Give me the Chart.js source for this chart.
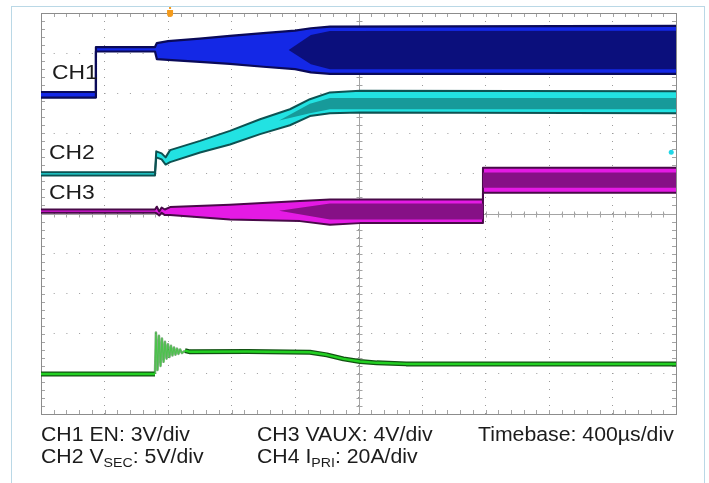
<!DOCTYPE html>
<html>
<head>
<meta charset="utf-8">
<script src="https://cdn.jsdelivr.net/npm/chart.js@4.4.1/dist/chart.umd.min.js"></script>
<style>
html, body { margin: 0; padding: 0; background: #fff; }
#wrap { position: relative; width: 709px; height: 483px; overflow: hidden; font-family: "Liberation Sans", Arial, sans-serif; }
#scope { position: absolute; left: 0; top: 0; }
.lbl { position: absolute; white-space: nowrap; line-height: 1; color: #1c1c1c; transform-origin: 0 0; transform: scaleX(1.09); }
.ch { font-size: 21px; }
.note { font-size: 19.5px; }
.note sub { font-size: 13px; vertical-align: -4px; line-height: 0; }
</style>
</head>
<body>
<div id="wrap">
  <canvas id="scope" width="709" height="483"></canvas>
  <div class="lbl ch" style="left:52px; top:61px;">CH1</div>
  <div class="lbl ch" style="left:49px; top:141px;">CH2</div>
  <div class="lbl ch" style="left:49px; top:181px;">CH3</div>
  <div class="lbl note" style="left:41px; top:425px;">CH1 EN: 3V/div</div>
  <div class="lbl note" style="left:41px; top:447px;">CH2 V<sub>SEC</sub>: 5V/div</div>
  <div class="lbl note" style="left:257px; top:425px;">CH3 VAUX: 4V/div</div>
  <div class="lbl note" style="left:257px; top:447px;">CH4 I<sub>PRI</sub>: 20A/div</div>
  <div class="lbl note" style="left:478px; top:425px;">Timebase: 400µs/div</div>
</div>
<script>
// time in µs from left edge of screen, values in divisions (0 = bottom line)
const usPerDiv = 400;
const xDivs = 10;
const yDivs = 10;
const triggerUs = 813;
const ringStart = 718, ringEnd = 907;

// CH1 EN (blue)
const ch1Time  = [0, 346, 346, 718, 730, 800, 1000, 1190, 1400, 1600, 1700, 1820, 4000];
const ch1Upper = [8.03, 8.03, 9.15, 9.15, 9.25, 9.3, 9.36, 9.43, 9.5, 9.56, 9.62, 9.66, 9.68];
const ch1Lower = [7.89, 7.89, 9.04, 9.04, 8.85, 8.83, 8.78, 8.73, 8.66, 8.6, 8.52, 8.48, 8.48];
const ch1CoreTime  = [1560, 1700, 1820, 4000];
const ch1CoreUpper = [9.08, 9.45, 9.55, 9.56];
const ch1CoreLower = [9.08, 8.72, 8.6, 8.6];

// CH2 VSEC (cyan)
const ch2Time  = [0, 718, 726, 760, 785, 813, 1002, 1190, 1380, 1568, 1694, 1820, 2009, 4000];
const ch2Upper = [6.03, 6.03, 6.55, 6.5, 6.4, 6.58, 6.81, 7.06, 7.35, 7.6, 7.85, 8.02, 8.06, 8.05];
const ch2Lower = [5.95, 5.95, 6.4, 6.35, 6.22, 6.28, 6.52, 6.72, 6.98, 7.2, 7.43, 7.5, 7.52, 7.5];
const ch2CoreTime  = [1500, 1694, 1820, 4000];
const ch2CoreUpper = [7.32, 7.74, 7.88, 7.88];
const ch2CoreLower = [7.32, 7.5, 7.6, 7.6];
const ch2Marker = [{x: 3970, y: 6.53}];

// CH3 VAUX (magenta)
const ch3Time  = [0, 718, 730, 745, 760, 780, 813, 1190, 1631, 1820, 2009, 2784, 2784, 4000];
const ch3Upper = [5.1, 5.1, 5.17, 5.05, 5.15, 5.1, 5.16, 5.22, 5.31, 5.35, 5.35, 5.35, 6.14, 6.14];
const ch3Lower = [5.02, 5.02, 5.0, 4.95, 5.02, 4.96, 4.96, 4.85, 4.81, 4.72, 4.76, 4.76, 5.52, 5.52];
const ch3CoreTime  = [1500, 1820, 2784, 2784, 4000];
const ch3CoreUpper = [5.07, 5.25, 5.25, 6.02, 6.02];
const ch3CoreLower = [5.07, 4.85, 4.85, 5.64, 5.64];

// CH4 IPRI (green)
const ch4Time  = [0, 718, 724, 734, 743, 753, 762, 772, 781, 791, 800, 809, 819, 828, 838, 847, 857, 866, 876, 888, 907, 939, 1300, 1694, 1800, 1905, 2009, 2115, 2300, 4000];
const ch4Level = [1.0, 1.0, 2.03, 1.1, 1.95, 1.2, 1.88, 1.3, 1.8, 1.38, 1.74, 1.42, 1.7, 1.46, 1.66, 1.48, 1.63, 1.5, 1.61, 1.52, 1.58, 1.55, 1.56, 1.54, 1.475, 1.375, 1.31, 1.275, 1.25, 1.25];

function pts(t, v) {
    return t.map((x, i) => ({x: x, y: v[i]}));
}

function band(name, t, up, lo, fillColor, edgeColor, edgeWidth) {
    return [
        {label: name + ' top', data: pts(t, up), borderColor: edgeColor, borderWidth: edgeWidth, fill: false},
        {label: name + ' bottom', data: pts(t, lo), borderColor: edgeColor, borderWidth: edgeWidth, fill: '-1', backgroundColor: fillColor}
    ];
}

function inRing(c) {
    return c.p0.parsed.x >= ringStart && c.p1.parsed.x <= ringEnd;
}

const graticule = {
    id: 'graticule',
    beforeDraw(chart) {
        const ctx = chart.ctx;
        ctx.save();
        ctx.strokeStyle = '#bad8e6';
        ctx.lineWidth = 1;
        ctx.strokeRect(11.5, 6.5, 693, 520);
        ctx.restore();
    },
    beforeDatasetsDraw(chart) {
        const {ctx, chartArea: a, scales: {x, y}} = chart;
        const cx = Math.round(x.getPixelForValue(usPerDiv * xDivs / 2)) + 0.5;
        const cy = Math.round(y.getPixelForValue(yDivs / 2)) + 0.5;
        ctx.save();
        ctx.strokeStyle = '#a4a4a4';
        ctx.lineWidth = 1;
        ctx.beginPath();
        ctx.moveTo(cx, a.top); ctx.lineTo(cx, a.bottom);
        ctx.moveTo(a.left, cy); ctx.lineTo(a.right, cy);
        for (let t = 0; t <= usPerDiv * xDivs; t += usPerDiv / 5) {
            const px = Math.round(x.getPixelForValue(t)) + 0.5;
            ctx.moveTo(px, a.top); ctx.lineTo(px, a.top + 4);
            ctx.moveTo(px, a.bottom); ctx.lineTo(px, a.bottom - 4);
            ctx.moveTo(px, cy - 3); ctx.lineTo(px, cy + 3);
        }
        for (let k = 0; k <= yDivs * 5; k++) {
            const py = Math.round(y.getPixelForValue(k / 5)) + 0.5;
            ctx.moveTo(a.left, py); ctx.lineTo(a.left + 4, py);
            ctx.moveTo(a.right, py); ctx.lineTo(a.right - 4, py);
            ctx.moveTo(cx - 3, py); ctx.lineTo(cx + 3, py);
        }
        ctx.stroke();
        ctx.strokeStyle = '#8c8c8c';
        ctx.strokeRect(Math.round(a.left) + 0.5, Math.round(a.top) + 0.5, Math.round(a.width), Math.round(a.height));
        ctx.restore();
    },
    afterDatasetsDraw(chart) {
        const {ctx, chartArea: a, scales: {x}} = chart;
        const px = x.getPixelForValue(triggerUs);
        ctx.save();
        ctx.fillStyle = '#f49b1c';
        ctx.beginPath();
        ctx.moveTo(px - 3, a.top - 3);
        ctx.lineTo(px + 3, a.top - 3);
        ctx.lineTo(px + 3, a.top + 1);
        ctx.quadraticCurveTo(px + 3, a.top + 4, px, a.top + 4);
        ctx.quadraticCurveTo(px - 3, a.top + 4, px - 3, a.top + 1);
        ctx.closePath();
        ctx.fill();
        ctx.fillRect(px - 1, a.top - 6, 2, 2);
        ctx.restore();
    }
};

const datasets = [
    {label: 'CH2 level', data: ch2Marker, showLine: false, pointRadius: 2.5, pointBackgroundColor: '#20d6e6', pointBorderWidth: 0},
    {label: 'CH4', data: pts(ch4Time, ch4Level), borderColor: '#22d022', borderWidth: 2.5,
        segment: {borderColor: c => inRing(c) ? 'rgba(60,200,60,0.75)' : undefined, borderWidth: c => inRing(c) ? 1.2 : undefined}},
    {label: 'CH4 edge', data: pts(ch4Time, ch4Level), borderColor: '#125212', borderWidth: 5,
        segment: {borderColor: c => inRing(c) ? 'rgba(18,110,18,0.55)' : undefined, borderWidth: c => inRing(c) ? 2.5 : undefined}},
    ...band('CH1 core', ch1CoreTime, ch1CoreUpper, ch1CoreLower, '#0b0f7c', 'rgba(0,0,0,0)', 0),
    ...band('CH1', ch1Time, ch1Upper, ch1Lower, '#1428e6', '#0a0a58', 2.2),
    ...band('CH2 core', ch2CoreTime, ch2CoreUpper, ch2CoreLower, '#179a9a', 'rgba(0,0,0,0)', 0),
    ...band('CH2', ch2Time, ch2Upper, ch2Lower, '#22e2e2', '#0d5252', 2),
    ...band('CH3 core', ch3CoreTime, ch3CoreUpper, ch3CoreLower, '#861086', 'rgba(0,0,0,0)', 0),
    ...band('CH3', ch3Time, ch3Upper, ch3Lower, '#e41ae4', '#480a48', 2)
];

const ctx = document.getElementById('scope').getContext('2d');
new Chart(ctx, {
    type: 'line',
    data: {datasets: datasets},
    options: {
        responsive: false,
        animation: false,
        events: [],
        layout: {padding: {left: 41, top: 13, right: 33, bottom: 69}},
        elements: {point: {radius: 0}, line: {tension: 0, borderJoinStyle: 'round'}},
        plugins: {legend: {display: false}, tooltip: {enabled: false}},
        scales: {
            x: {
                type: 'linear', min: 0, max: usPerDiv * xDivs,
                ticks: {display: false, stepSize: usPerDiv},
                grid: {color: '#9a9a9a', lineWidth: 1, drawTicks: false},
                border: {display: false, dash: [1, 7]}
            },
            y: {
                type: 'linear', min: 0, max: yDivs,
                ticks: {display: false, stepSize: 1},
                grid: {color: '#9a9a9a', lineWidth: 1, drawTicks: false},
                border: {display: false, dash: [1, 11.7]}
            }
        }
    },
    plugins: [graticule]
});
</script>
</body>
</html>
